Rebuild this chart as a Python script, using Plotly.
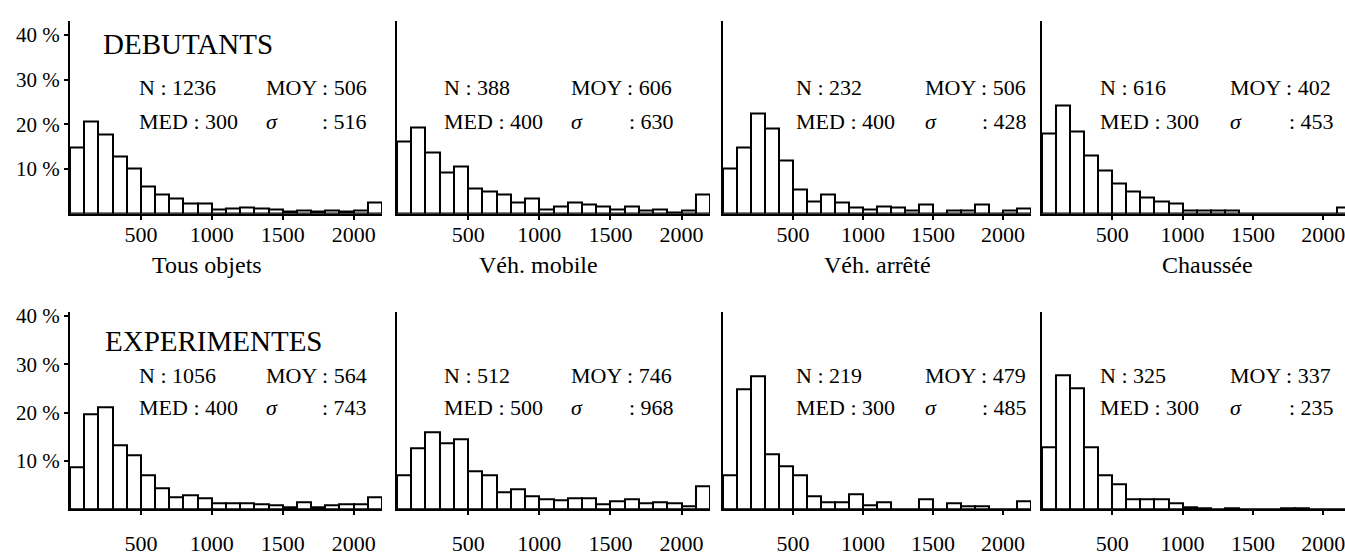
import plotly.graph_objects as go

# ---------------- data ----------------
bin_starts = [0, 100, 200, 300, 400, 500, 600, 700, 800, 900, 1000,
              1100, 1200, 1300, 1400, 1500, 1600, 1700, 1800, 1900, 2000, 2100]

x_tick_vals = [500, 1000, 1500, 2000]
x_tick_text = ["500", "1000", "1500", "2000"]
y_tick_vals = [10, 20, 30, 40]
y_tick_text = ["10 %", "20 %", "30 %", "40 %"]

categories = ["Tous objets", "Véh. mobile", "Véh. arrêté", "Chaussée"]
groups = ["DEBUTANTS", "EXPERIMENTES"]

deb_tous = [14.8, 20.6, 17.6, 12.8, 10.1, 6.0, 4.2, 3.4, 2.3, 2.3, 1.0,
            1.1, 1.3, 1.1, 0.9, 0.4, 0.8, 0.4, 0.8, 0.4, 0.6, 2.4]
deb_mobile = [16.2, 19.2, 13.7, 9.2, 10.6, 5.7, 5.0, 4.2, 2.4, 3.3, 0.9,
              1.5, 2.4, 2.1, 1.5, 1.0, 1.7, 0.6, 1.0, 0.2, 0.6, 4.3]
deb_arrete = [10.1, 14.9, 22.5, 19.0, 11.8, 5.4, 2.7, 4.2, 2.5, 1.4, 0.9,
              1.7, 1.3, 0.6, 2.0, 0.0, 0.6, 0.6, 2.0, 0.0, 0.6, 1.1]
deb_chaussee = [17.9, 24.2, 18.4, 13.0, 9.7, 6.7, 5.0, 3.6, 2.7, 2.2, 0.7,
                0.7, 0.6, 0.6, 0.1, 0.1, 0.1, 0.1, 0.1, 0.1, 0.1, 1.4]

exp_tous = [8.7, 19.6, 21.2, 13.2, 11.1, 7.1, 4.3, 2.4, 2.9, 2.3, 1.2,
            1.2, 1.2, 1.1, 0.8, 0.5, 1.5, 0.5, 0.8, 1.0, 1.1, 2.5]
exp_mobile = [7.1, 12.6, 16.0, 13.6, 14.5, 7.9, 7.1, 3.6, 4.2, 2.7, 2.1,
              1.9, 2.3, 2.3, 1.1, 1.6, 2.1, 1.3, 1.4, 1.3, 0.7, 4.7]
exp_arrete = [7.1, 24.8, 27.6, 11.3, 8.9, 7.1, 2.7, 1.5, 1.5, 3.1, 0.8,
              1.5, 0.1, 0.0, 2.1, 0.0, 1.3, 0.7, 0.7, 0.0, 0.1, 1.6]
exp_chaussee = [12.8, 27.7, 25.1, 12.8, 7.1, 5.1, 2.0, 2.0, 2.0, 1.3, 0.5,
                0.3, 0.1, 0.2, 0.1, 0.1, 0.1, 0.2, 0.2, 0.1, 0.1, 0.1]

deb_N = ["1236", "388", "232", "616"]
deb_MOY = ["506", "606", "506", "402"]
deb_MED = ["300", "400", "400", "300"]
deb_SIG = ["516", "630", "428", "453"]
exp_N = ["1056", "512", "219", "325"]
exp_MOY = ["564", "746", "479", "337"]
exp_MED = ["400", "500", "300", "300"]
exp_SIG = ["743", "968", "485", "235"]

# ---------------- layout helpers ----------------
W, H = 1345, 556
FONT = "Liberation Serif"

def px(x):
    return x / W

def py(y):
    return 1 - y / H

x_domains_px = [(70, 382), (397, 710), (723, 1031), (1042, 1345)]
x_ranges = [[0, 2200], [0, 2200], [0, 2200], [0, 2155]]
row_y_px = [(13, 213), (315, 519)]          # (top, baseline)
row_y_range = [[0, 43.2], [0, 40.8]]
row_standoff = [-4, 9]

# text positions (px)
stat_left = [137, 442, 794, 1098]
stat_mid = [264, 569, 923, 1228]
stat_col = [320, 627, 980, 1287]
stat_rows = [(82, 118), (380, 414)]
group_pos = [(101, 37), (103, 345)]
subtitle_x = [207, 538, 877, 1207]
subtitle_y = 266

series = [[deb_tous, deb_mobile, deb_arrete, deb_chaussee],
          [exp_tous, exp_mobile, exp_arrete, exp_chaussee]]
stats = [(deb_N, deb_MOY, deb_MED, deb_SIG), (exp_N, exp_MOY, exp_MED, exp_SIG)]

fig = go.Figure()
layout = {}
annotations = []


def add(text, x, y, size=22, anchor="left"):
    annotations.append(dict(
        text=text, x=px(x), y=py(y), xref="paper", yref="paper",
        xanchor=anchor, yanchor="middle", showarrow=False,
        font=dict(family=FONT, size=size, color="black")))


for r in range(2):
    for c in range(4):
        k = r * 4 + c + 1
        xa = "x" if k == 1 else f"x{k}"
        ya = "y" if k == 1 else f"y{k}"
        fig.add_trace(go.Bar(
            x=bin_starts, y=series[r][c], width=100, offset=0,
            marker=dict(color="white", line=dict(color="black", width=2)),
            xaxis=xa, yaxis=ya, showlegend=False, hoverinfo="skip"))
        top, base = row_y_px[r]
        x0, x1 = x_domains_px[c]
        layout["xaxis" if k == 1 else f"xaxis{k}"] = dict(
            domain=[px(x0), min(px(x1), 1.0)], range=x_ranges[c],
            anchor=ya, showline=True, linecolor="black", linewidth=2,
            showgrid=False, zeroline=False,
            tickvals=x_tick_vals, ticktext=x_tick_text,
            ticks="outside", ticklen=4, tickwidth=2, tickcolor="black",
            tickfont=dict(family=FONT, size=22, color="black"),
            ticklabelstandoff=row_standoff[r],
            ticklabeloverflow="allow",
            fixedrange=True)
        ydict = dict(
            domain=[py(base), py(top)], range=row_y_range[r],
            anchor=xa, showline=True, linecolor="black", linewidth=2,
            showgrid=False, zeroline=False, fixedrange=True)
        if c == 0:
            ydict.update(tickvals=y_tick_vals, ticktext=y_tick_text,
                         ticks="outside", ticklen=4, tickwidth=2,
                         tickcolor="black",
                         tickfont=dict(family=FONT, size=21, color="black"))
        else:
            ydict.update(showticklabels=False, ticks="")
        layout["yaxis" if k == 1 else f"yaxis{k}"] = ydict

        N, MOY, MED, SIG = stats[r]
        r1, r2 = stat_rows[r]
        add(f"N : {N[c]}", stat_left[c], r1)
        add(f"MOY : {MOY[c]}", stat_mid[c], r1)
        add(f"MED : {MED[c]}", stat_left[c], r2)
        add("<i>σ</i>", stat_mid[c], r2)
        add(f": {SIG[c]}", stat_col[c], r2)
        if r == 0:
            add(categories[c], subtitle_x[c], subtitle_y, size=24, anchor="center")
    gx, gy = group_pos[r]
    add(groups[r], gx, gy, size=29)

fig.update_layout(**layout)
fig.update_layout(
    width=W, height=H, margin=dict(l=0, r=0, t=0, b=0),
    plot_bgcolor="white", paper_bgcolor="white",
    annotations=annotations, bargap=0, showlegend=False)

fig.write_html("out.html", config={"displayModeBar": False})
